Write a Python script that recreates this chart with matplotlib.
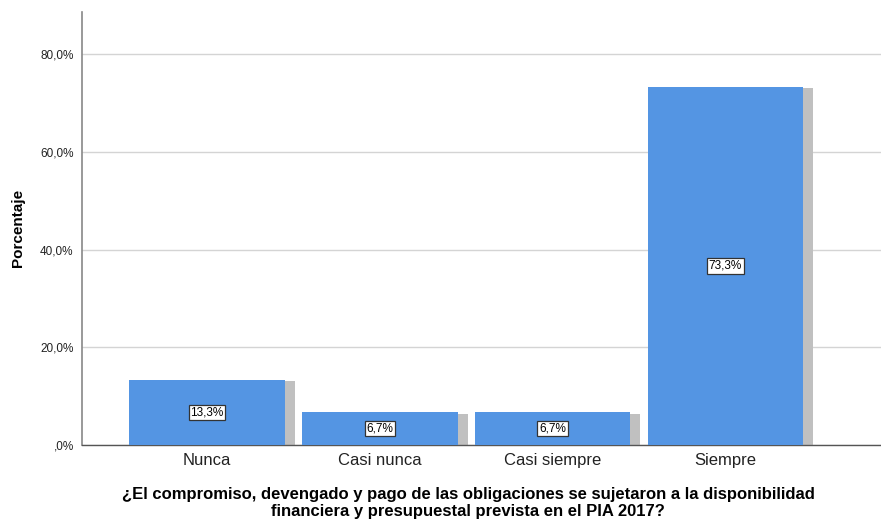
import matplotlib
matplotlib.use("Agg")
import matplotlib.pyplot as plt
from matplotlib.ticker import FuncFormatter

plt.rcParams['font.family'] = ['Liberation Sans', 'DejaVu Sans']

categories = ["Nunca", "Casi nunca", "Casi siempre", "Siempre"]
values = [13.3, 6.7, 6.7, 73.3]
labels = ["13,3%", "6,7%", "6,7%", "73,3%"]
yticks = [0, 20, 40, 60, 80]

fig = plt.figure(figsize=(8.81, 5.22), dpi=100)
ax = fig.add_axes([82/881, 77/522, (881-82)/881, (445-12)/522])

x = list(range(len(categories)))
w = 0.9
shadow_off = 0.058
ax.bar([i + shadow_off for i in x], [v - 0.3 for v in values], width=w,
       color='#c0c0c0', zorder=2, linewidth=0)
ax.bar(x, values, width=w, color='#5495e3', zorder=3, linewidth=0)

for i, v in enumerate(values):
    ax.text(i, v / 2, labels[i], ha='center', va='center', fontsize=8.5,
            zorder=5, color='#000000',
            bbox=dict(boxstyle='square,pad=0.15', facecolor='white',
                      edgecolor='#333333', linewidth=0.9))

ax.set_xlim(-0.723, 3.90)
ax.set_ylim(0, 88.6)
ax.set_yticks(yticks)
ax.yaxis.set_major_formatter(FuncFormatter(
    lambda v, p: (",0%" if v == 0 else f"{v:.1f}%".replace(".", ","))))
ax.set_xticks(x)
ax.set_xticklabels(categories, fontsize=12, color='#222222')
ax.tick_params(axis='y', length=0, labelsize=8.5, pad=6, labelcolor='#222222')
ax.tick_params(axis='x', length=0, pad=6)
ax.grid(axis='y', color='#d4d4d4', linewidth=1, zorder=0)
ax.set_axisbelow(True)

for s in ['top', 'right']:
    ax.spines[s].set_visible(False)
ax.spines['left'].set_color('#888888')
ax.spines['bottom'].set_color('#555555')
ax.spines['left'].set_linewidth(1.2)
ax.spines['bottom'].set_linewidth(1.0)

fig.text(18/881, 1 - 228/522, "Porcentaje", rotation=90, ha='center',
         va='center', fontsize=11, fontweight='bold')
fig.text(468/881, 1 - 503/522,
         "¿El compromiso, devengado y pago de las obligaciones se sujetaron a la disponibilidad\nfinanciera y presupuestal prevista en el PIA 2017?",
         ha='center', va='center', fontsize=12, fontweight='bold',
         linespacing=1.1)

fig.savefig("out.png", dpi=100)
